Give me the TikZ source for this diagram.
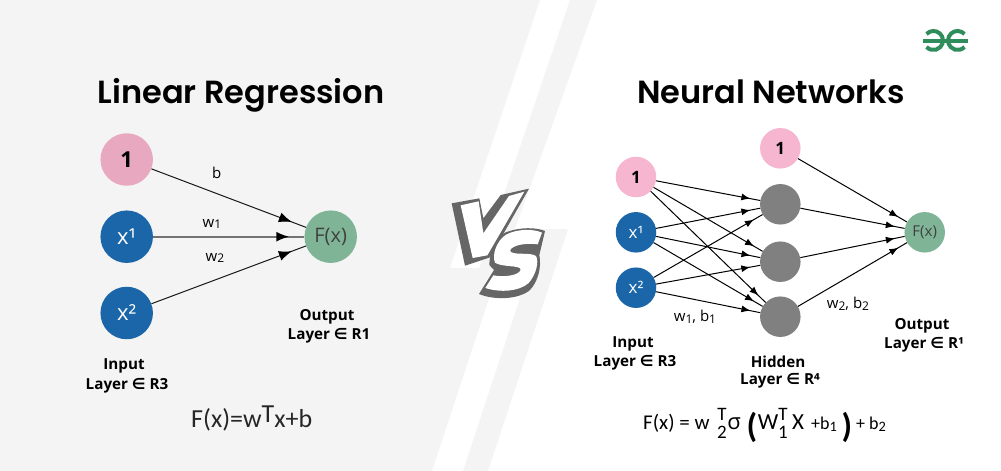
\documentclass[tikz,border=0pt]{standalone}
\usepackage{fontspec}
\usetikzlibrary{arrows.meta,decorations.markings}
\setmainfont{Open Sans}
\newfontfamily\titlef{Poppins SemiBold}
\newfontfamily\labf{Open Sans}
\newfontfamily\mathf{Carlito}
\newfontfamily\symf{DejaVu Sans}
\definecolor{bggray}{HTML}{F4F4F4}
\definecolor{pinkA}{HTML}{E8A9C0}
\definecolor{pinkB}{HTML}{F7B6D0}
\definecolor{blueN}{HTML}{1B66A8}
\definecolor{greenN}{HTML}{7FB596}
\definecolor{grayN}{HTML}{808080}
\definecolor{vsgray}{HTML}{666666}
\definecolor{gfg}{HTML}{2F8D5C}
\newcommand{\inel}{{\symf\bfseries ∈}}
\newcommand{\subs}[1]{\raisebox{-0.12em}{\fontsize{0.8em}{0.8em}\selectfont #1}}
\tikzset{
  x=1pt,y=-1pt,
  big/.style={circle,minimum size=52.5pt,inner sep=0pt,font=\labf\fontsize{22}{22}\selectfont},
  small/.style={circle,minimum size=40.5pt,inner sep=0pt,font=\labf\fontsize{17}{17}\selectfont},
  title/.style={font=\titlef\fontsize{32}{32}\selectfont,text=black,anchor=base,inner sep=0pt},
  lab/.style={font=\labf\bfseries\fontsize{15.2}{15.2}\selectfont,text=black,inner sep=0pt},
  wlab/.style={font=\labf\fontsize{15}{15}\selectfont,text=black,inner sep=0pt},
  fm/.style={font=\mathf\fontsize{21}{21}\selectfont,text=black,inner sep=0pt,anchor=base},
  fmw/.style={fm,anchor=base west},
  fs/.style={fm,font=\mathf\fontsize{18}{18}\selectfont},
  fp/.style={fm,font=\mathf\bfseries\fontsize{34}{34}\selectfont},
  arrL/.style={line width=1pt,black!90,postaction={decorate},decoration={markings,mark=at position -15pt with {\arrow{Latex[length=13pt,width=10pt,color=black,fill=black]}}}},
  arrS/.style={line width=1pt,black,postaction={decorate},decoration={markings,mark=at position -10pt with {\arrow{Latex[length=9pt,width=7pt]}}}},
  logo/.style={gfg,line width=4pt},
}
\begin{document}
\begin{tikzpicture}
\useasboundingbox (0,0) rectangle (1001,471);
% background
\fill[white] (0,0) rectangle (1001,471);
\fill[bggray] (0,0) -- (540,0) -- (450,268) -- (499,268) -- (432,471) -- (0,471) -- cycle;
\fill[bggray] (570,0) -- (597,0) -- (515,229) -- (568,229) -- (488,471) -- (463,471) -- (530,268) -- (479,268) -- cycle;
% titles
\node[title] (t1) at (241,103) {Linear Regression};
\node[title] (t2) at (771,103) {Neural Networks};
% logo
\draw[logo] (945.5,41) -- (923,41);
\draw[logo] (945.5,41) -- (968,41);
\draw[logo] (926.5,34) arc[start angle=137,end angle=-137,x radius=9.5,y radius=-9.5];
\draw[logo] (964.5,34) arc[start angle=43,end angle=317,x radius=9.5,y radius=-9.5];
% VS
\begin{scope}[shift={(430,150)},scale=0.33333]
\fill[vsgray] (65,160) -- (148,145) -- (160,205) -- (212,135) -- (297,116) -- (180,322) -- (105,347) -- cycle;
\fill[white] (92,166) -- (146,154) -- (160,250) -- (237,138) -- (283,125) -- (172,316) -- (128,324) -- cycle;
\fill[vsgray] (345,243) .. controls (320,232) and (270,230) .. (225,248) .. controls (195,265) and (178,310) .. (178,345) -- (192,360) -- (147,432) .. controls (190,450) and (260,450) .. (298,422) .. controls (325,395) and (335,350) .. (328,315) -- cycle;
\fill[white] (336,248) .. controls (310,236) and (262,236) .. (228,254) .. controls (200,272) and (185,315) .. (195,338) .. controls (215,352) and (270,345) .. (272,358) .. controls (270,378) and (215,382) .. (190,376) -- (166,414) .. controls (210,428) and (265,425) .. (295,400) .. controls (318,375) and (328,335) .. (318,318) .. controls (300,305) and (245,318) .. (240,302) .. controls (245,285) and (290,278) .. (323,283) -- cycle;
\end{scope}
% linear regression
\node[big,fill=pinkA] (a1) at (126.7,159.5) {\textbf{1}};
\node[big,fill=blueN,text=white] (ax1) at (126.7,236.7) {x¹};
\node[big,fill=blueN,text=white] (ax2) at (126.7,313) {x²};
\node[big,fill=greenN,text=black!75,font=\labf\fontsize{20}{20}\selectfont] (af) at (330.7,236.7) {F(x)};
\draw[arrL] (a1) -- (af);
\draw[arrL,draw=black!55,line width=2pt] (ax1) -- (af);
\draw[arrL] (ax2) -- (af);
\node[wlab] (lb) at (216.7,173.3) {b};
\node[wlab] (lw1) at (212,224) {w\subs{1}};
\node[wlab] (lw2) at (215,258) {w\subs{2}};
\node[lab] (li1) at (124,365.5) {Input};
\node[lab] (li2) at (127,385.5) {Layer \inel{} R3};
\node[lab] (lo1) at (327,316.5) {Output};
\node[lab] (lo2) at (329,335.5) {Layer \inel{} R1};
\node[inner sep=0pt,anchor=base west,font=\mathf\fontsize{26}{26}\selectfont,text=black!85] (lf) at (191,427) {F(x)=w\raisebox{0.16em}{T}x+b};
% neural network
\node[small,fill=pinkB] (n1) at (636,177) {\textbf{1}};
\node[small,fill=blueN,text=white] (nx1) at (636,232.3) {x¹};
\node[small,fill=blueN,text=white] (nx2) at (636,287.7) {x²};
\node[small,fill=pinkB] (nb) at (780.3,148.3) {\textbf{1}};
\node[small,fill=grayN] (h1) at (780.3,204.3) {};
\node[small,fill=grayN] (h2) at (780.3,261.7) {};
\node[small,fill=grayN] (h3) at (780.3,316.7) {};
\node[small,fill=greenN,text=black!75,font=\labf\fontsize{15}{15}\selectfont] (nf) at (924.7,232.3) {F(x)};
\foreach \s in {n1,nx1,nx2}\foreach \t in {h1,h2,h3}{\draw[arrS] (\s) -- (\t);}
\foreach \s in {nb,h1,h2,h3}{\draw[arrS] (\s) -- (nf);}
\node[wlab] (w1b1) at (695,317) {w\subs{1}, b\subs{1}};
\node[wlab] (w2b2) at (848,304) {w\subs{2}, b\subs{2}};
\node[lab] (ni1) at (633,343.5) {Input};
\node[lab] (ni2) at (635,362.5) {Layer \inel{} R3};
\node[lab] (nh1) at (778,361.5) {Hidden};
\node[lab] (nh2) at (780,380.5) {Layer \inel{} R⁴};
\node[lab] (no1) at (922,325.5) {Output};
\node[lab] (no2) at (924,344.5) {Layer \inel{} R¹};
% neural network formula
\node[fmw] (f1) at (643,429) {F(x) = w};
\node[fm,font=\mathf\fontsize{19}{19}\selectfont] (f2) at (722,420) {T};
\node[fm,font=\mathf\fontsize{19}{19}\selectfont] (f3) at (722,438) {2};
\node[fm,font=\labf\fontsize{22}{22}\selectfont] (f4) at (734,429) {σ};
\node[fp] (f5) at (752,437) {(};
\node[fm,font=\mathf\fontsize{23}{23}\selectfont] (f6) at (768,429) {W};
\node[fm,font=\mathf\fontsize{19}{19}\selectfont] (f7) at (783,420) {T};
\node[fm,font=\mathf\fontsize{19}{19}\selectfont] (f8) at (783,438) {1};
\node[fm,font=\mathf\fontsize{23}{23}\selectfont] (f9) at (798,429) {X};
\node[fs,anchor=base west] (f10) at (811,429) {+b\subs{1}};
\node[fp] (f11) at (847,437) {)};
\node[fs,anchor=base west] (f12) at (856,429) {+ b\subs{2}};
\end{tikzpicture}
\end{document}
